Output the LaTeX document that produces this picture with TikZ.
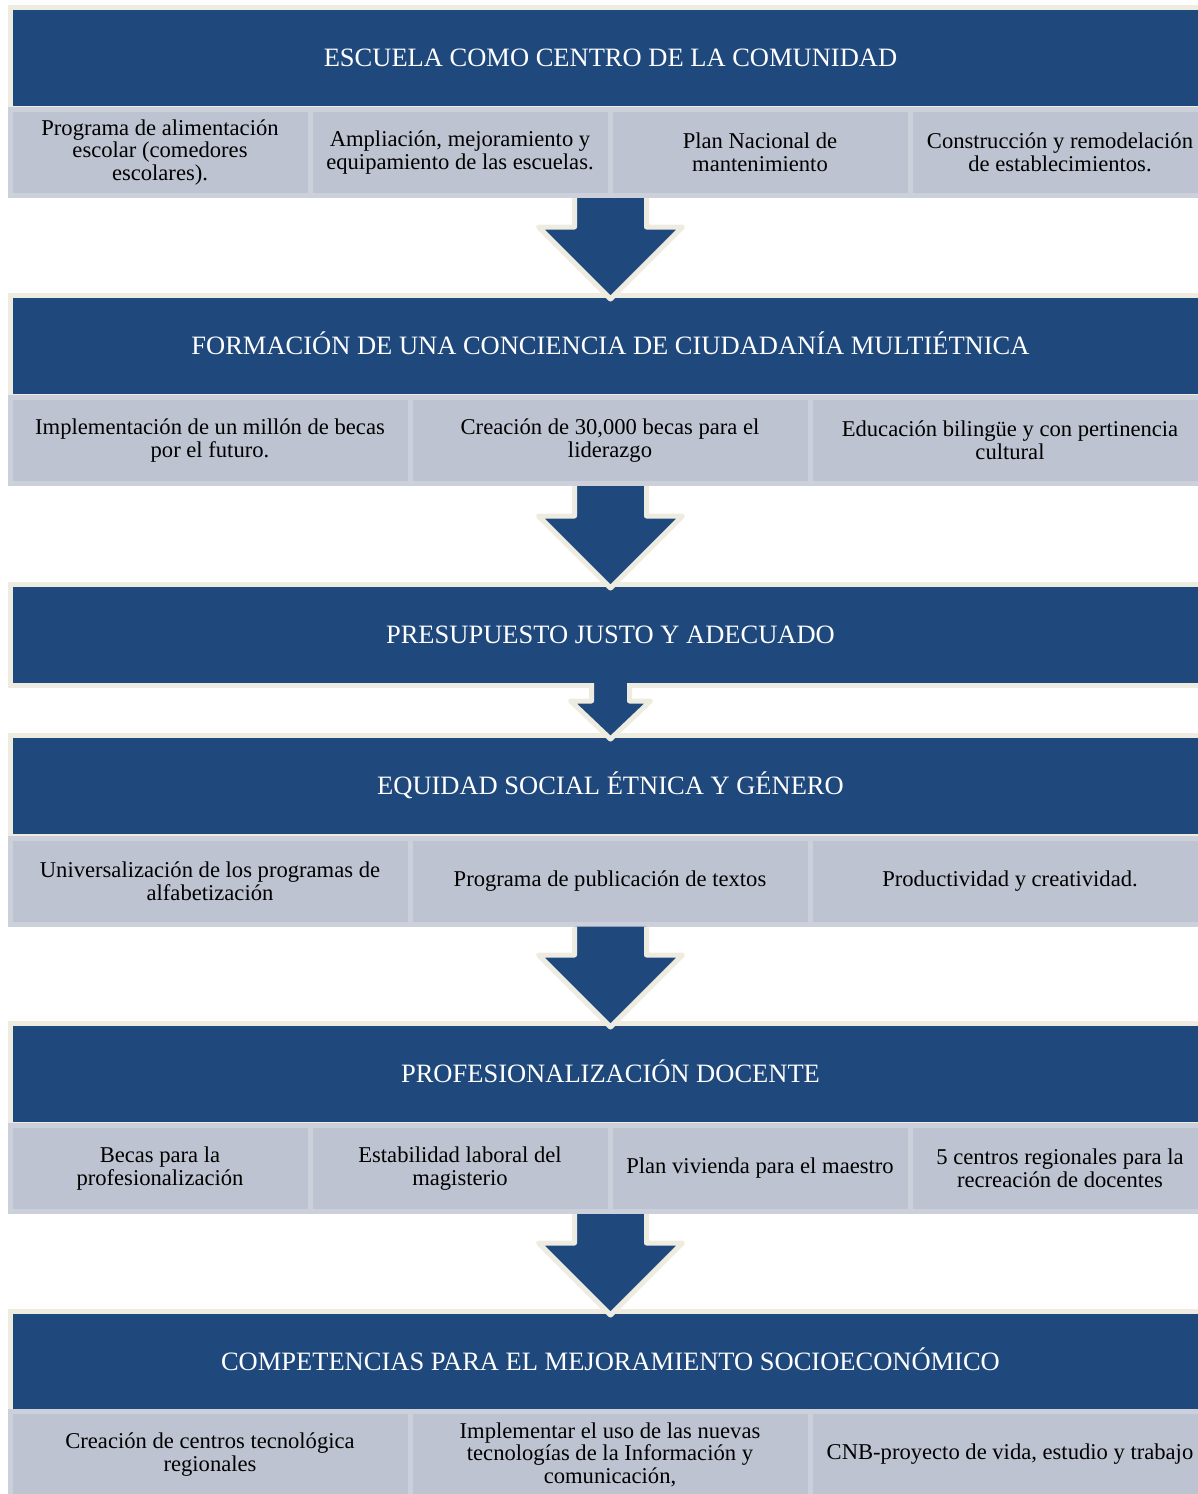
\documentclass[tikz,border=0pt]{standalone}
\usepackage{fontspec}
\setmainfont{Liberation Serif}
\usetikzlibrary{calc}
\definecolor{azul}{HTML}{1F497D}
\definecolor{crema}{HTML}{EEECE1}
\definecolor{grisfondo}{HTML}{BDC3D0}
\definecolor{grisborde}{HTML}{CCD0DA}
% flecha de bloque: desde, hasta, medio cuerpo, media punta, largo punta
\NewDocumentCommand\flecha{mmmmm}{%
  \path[flechabloque] let \p1=(#1), \p2=(#2) in
    (\x2-#3,\y1) -- (\x2-#3,\y2+#5) -- (\x2-#4,\y2+#5) -- (\x2,\y2)
    -- (\x2+#4,\y2+#5) -- (\x2+#3,\y2+#5) -- (\x2+#3,\y1);}

\begin{document}
\begin{tikzpicture}[x=1pt,y=-1pt,
    encabezado/.style={draw=crema,line width=5pt,fill=azul,text=white,minimum width=1200pt,
      minimum height=101pt,inner sep=0pt,text height=17.5pt,text depth=0pt,
      font=\fontsize{26.5}{30}\selectfont},
    caja/.style={draw=grisborde,line width=5pt,fill=grisfondo,minimum height=86pt,inner sep=0pt,
      align=center,font=\fontsize{22.6}{22.6}\selectfont},
    caja4/.style={caja,minimum width=300pt},
    caja3/.style={caja,minimum width=400pt},
    flechabloque/.style={fill=azul,draw=crema,line width=5pt,line join=round}]
        \useasboundingbox (0,0) rectangle (1198,1494);
        \clip (0,0) rectangle (1198,1494);
        % bandas
        \node[encabezado] (h1) at (610.5,58) {ESCUELA COMO CENTRO DE LA COMUNIDAD};
        \node[caja4] (s11) at (160,152.5) {Programa de alimentación\\escolar (comedores\\escolares).};
        \node[caja4] (s12) at (460,152.5) {Ampliación, mejoramiento y\\equipamiento de las escuelas.};
        \node[caja4] (s13) at (760,152.5) {Plan Nacional de\\mantenimiento};
        \node[caja4] (s14) at (1060,152.5) {Construcción y remodelación\\de establecimientos.};

        \node[encabezado] (h2) at (610.5,346) {FORMACIÓN DE UNA CONCIENCIA DE CIUDADANÍA MULTIÉTNICA};
        \node[caja3] (s21) at (210,440.5) {Implementación de un millón de becas\\por el futuro.};
        \node[caja3] (s22) at (610,440.5) {Creación de 30,000 becas para el\\liderazgo};
        \node[caja3] (s23) at (1010,440.5) {Educación bilingüe y con pertinencia\\cultural};

        \node[encabezado] (h3) at (610.5,635) {PRESUPUESTO JUSTO Y ADECUADO};

        \node[encabezado] (h4) at (610.5,786) {EQUIDAD SOCIAL ÉTNICA Y GÉNERO};
        \node[caja3] (s41) at (210,881) {Universalización de los programas de\\alfabetización};
        \node[caja3] (s42) at (610,881) {Programa de publicación de textos};
        \node[caja3] (s43) at (1010,881) {Productividad y creatividad.};

        \node[encabezado] (h5) at (610.5,1074) {PROFESIONALIZACIÓN DOCENTE};
        \node[caja4] (s51) at (160,1168.5) {Becas para la\\profesionalización};
        \node[caja4] (s52) at (460,1168.5) {Estabilidad laboral del\\magisterio};
        \node[caja4] (s53) at (760,1168.5) {Plan vivienda para el maestro};
        \node[caja4] (s54) at (1060,1168.5) {5 centros regionales para la\\recreación de docentes};

        \node[encabezado] (h6) at (610.5,1362) {COMPETENCIAS PARA EL MEJORAMIENTO SOCIOECONÓMICO};
        \node[caja3] (s61) at (210,1454.5) {Creación de centros tecnológica\\regionales};
        \node[caja3] (s62) at (610,1454.5) {Implementar el uso de las nuevas\\tecnologías de la Información y\\comunicación,};
        \node[caja3] (s63) at (1010,1454.5) {CNB-proyecto de vida, estudio y trabajo};
        % flechas
        \flecha{s12.south east}{[yshift=-6pt]h2.north}{36pt}{72pt}{72pt}
        \flecha{s22.south}{[yshift=-6pt]h3.north}{36pt}{72pt}{72pt}
        \flecha{[yshift=5pt]h3.south}{[yshift=-6pt]h4.north}{19pt}{40pt}{38pt}
        \flecha{s42.south}{[yshift=-6pt]h5.north}{36pt}{72pt}{72pt}
        \flecha{s52.south east}{[yshift=-6pt]h6.north}{36pt}{72pt}{72pt}
    \end{tikzpicture}
\end{document}
